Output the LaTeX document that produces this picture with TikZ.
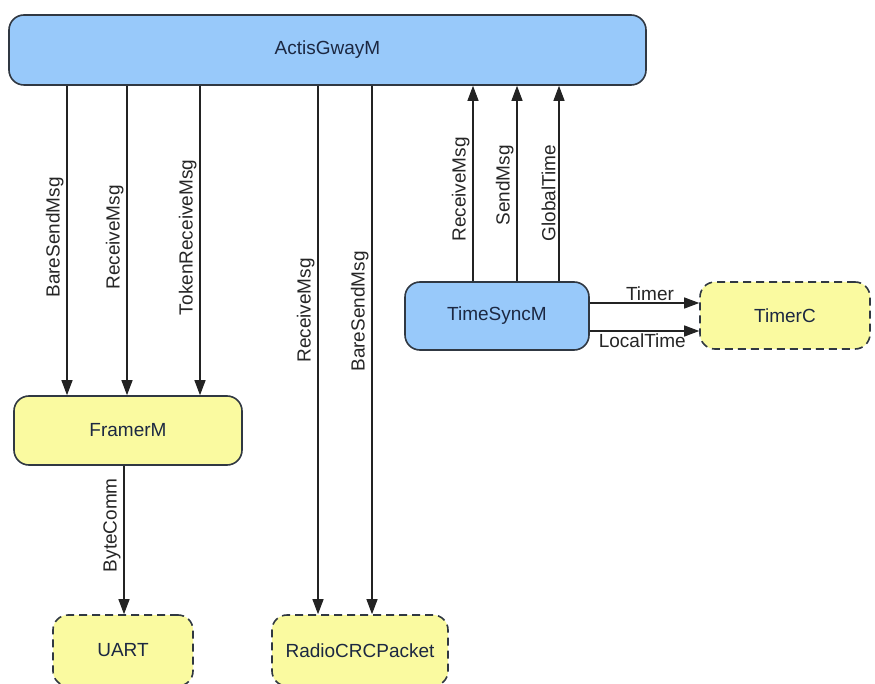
\documentclass[tikz,border=0pt]{standalone}
\usepackage{fontspec}
\setmainfont{Liberation Sans}
\usetikzlibrary{arrows.meta}
\definecolor{modblue}{RGB}{152,201,250}
\definecolor{modyellow}{RGB}{250,250,160}
\definecolor{modborder}{RGB}{48,56,66}
\definecolor{modtext}{RGB}{28,40,66}
\definecolor{wire}{RGB}{35,35,35}
\begin{document}
\begin{tikzpicture}[x=1pt,y=-1pt,
  every node/.style={font=\fontsize{19}{22}\selectfont},
  module/.style={draw=modborder, line width=1.6pt, rounded corners=15pt,
    text=modtext, inner sep=0pt},
  bluemod/.style={module, fill=modblue},
  yellowmod/.style={module, fill=modyellow},
  extmod/.style={module, fill=modyellow, dash pattern=on 8pt off 5pt},
  arr/.style={draw=wire, line width=1.1pt,
    -{Triangle[length=15pt,width=11pt]}},
  vlabel/.style={rotate=90, anchor=south, inner sep=3pt, text=black!85},
  hlabel/.style={inner sep=2pt, text=black!85}]
\useasboundingbox (0,0) rectangle (875,684);
\fill[white] (0,0) rectangle (875,684);

% components
\node[bluemod, minimum width=637pt, minimum height=70pt] (act) at (327.5,50) {ActisGwayM};
\node[bluemod, minimum width=184pt, minimum height=68pt] (tsync) at (497,316) {TimeSyncM};
\node[extmod, minimum width=170pt, minimum height=67pt] (timerc) at (785,315.5) {TimerC};
\node[yellowmod, minimum width=228pt, minimum height=69pt] (framer) at (128,430.5) {FramerM};
\node[extmod, minimum width=140pt, minimum height=71pt] (uart) at (123,650.5) {UART};
\node[extmod, minimum width=176pt, minimum height=71pt] (radio) at (360,650.5) {RadioCRCPacket};

% x positions of the wires
\coordinate (xa) at (67,0);
\coordinate (xb) at (127,0);
\coordinate (xc) at (200,0);
\coordinate (xd) at (318,0);
\coordinate (xe) at (372,0);
\coordinate (xf) at (473,0);
\coordinate (xg) at (517,0);
\coordinate (xh) at (559,0);
\coordinate (xi) at (124,0);
\coordinate (ya) at (0,303);
\coordinate (yb) at (0,331);

% ActisGwayM -> FramerM
\draw[arr] (act.south -| xa) -- node[vlabel, pos=0.49] {BareSendMsg} (framer.north -| xa);
\draw[arr] (act.south -| xb) -- node[vlabel, pos=0.49] {ReceiveMsg} (framer.north -| xb);
\draw[arr] (act.south -| xc) -- node[vlabel, pos=0.49] {TokenReceiveMsg} (framer.north -| xc);

% ActisGwayM -> RadioCRCPacket
\draw[arr] (act.south -| xd) -- node[vlabel, pos=0.425] {ReceiveMsg} (radio.north -| xd);
\draw[arr] (act.south -| xe) -- node[vlabel, pos=0.427] {BareSendMsg} (radio.north -| xe);

% TimeSyncM -> ActisGwayM
\draw[arr] (tsync.north -| xf) -- node[vlabel, pos=0.47] {ReceiveMsg} (act.south -| xf);
\draw[arr] (tsync.north -| xg) -- node[vlabel, pos=0.49] {SendMsg} (act.south -| xg);
\draw[arr] (tsync.north -| xh) -- node[vlabel, pos=0.45] {GlobalTime} (act.south -| xh);

% TimeSyncM -> TimerC
\draw[arr] (tsync.east |- ya) -- node[hlabel, above, pos=0.55] {Timer} (timerc.west |- ya);
\draw[arr] (tsync.east |- yb) -- node[hlabel, below, pos=0.48] {LocalTime} (timerc.west |- yb);

% FramerM -> UART
\draw[arr] (framer.south -| xi) -- node[vlabel, pos=0.4] {ByteComm} (uart.north -| xi);
\end{tikzpicture}
\end{document}
